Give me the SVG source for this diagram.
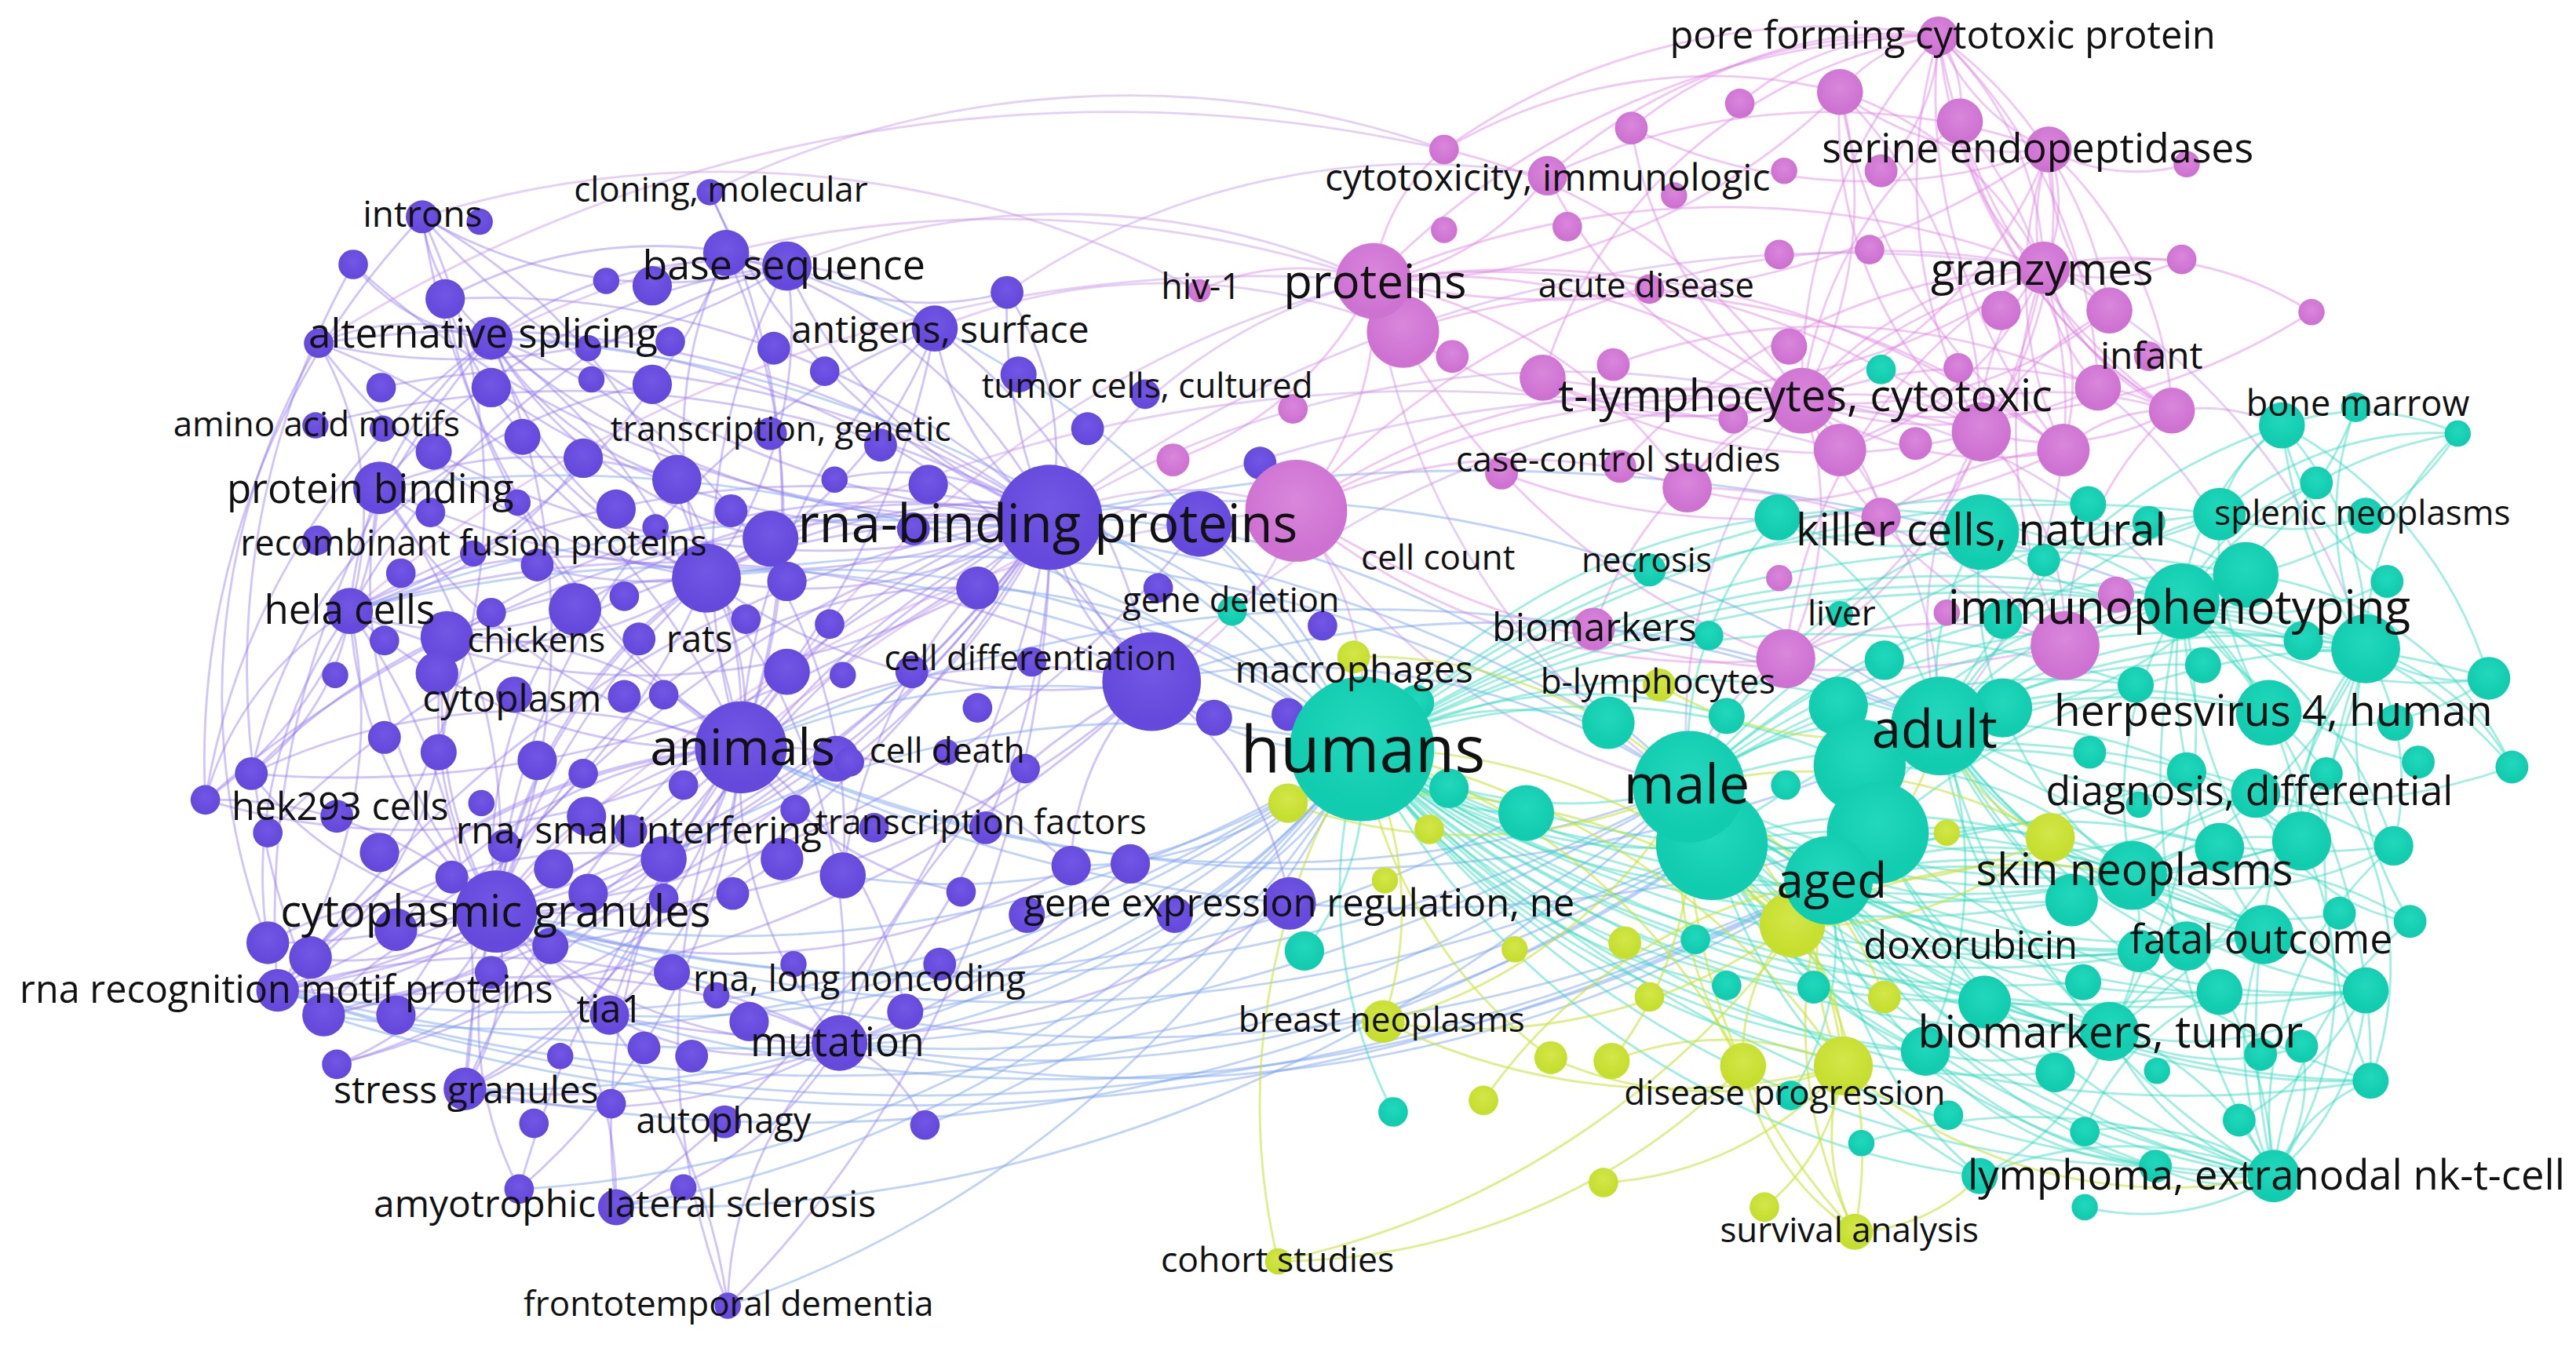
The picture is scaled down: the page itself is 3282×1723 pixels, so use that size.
<svg xmlns="http://www.w3.org/2000/svg" width="3282" height="1723" viewBox="0 0 3282 1723">
<defs>
<radialGradient id="gp" cy="0.4"><stop offset="0" stop-color="#7256e4"/><stop offset="1" stop-color="#6549dc"/></radialGradient>
<radialGradient id="gk" cy="0.4"><stop offset="0" stop-color="#d987dc"/><stop offset="1" stop-color="#ce72d2"/></radialGradient>
<radialGradient id="gt" cy="0.4"><stop offset="0" stop-color="#22d8bc"/><stop offset="1" stop-color="#12ccaf"/></radialGradient>
<radialGradient id="gl" cy="0.4"><stop offset="0" stop-color="#d3e74a"/><stop offset="1" stop-color="#c6de2e"/></radialGradient>
</defs>
<style>
.e path{fill:none;stroke-width:1.35;stroke-linecap:round}
.ep{stroke:#8f72ee;stroke-opacity:.42}
.eb{stroke:#7aa4f0;stroke-opacity:.48}
.ev{stroke:#c48de6;stroke-opacity:.42}
.ek{stroke:#df86e2;stroke-opacity:.46}
.et{stroke:#2fd9bd;stroke-opacity:.46}
.el{stroke:#c8e23e;stroke-opacity:.6}
.p{fill:url(#gp)}.k{fill:url(#gk)}.t{fill:url(#gt)}.l{fill:url(#gl)}
text{font-family:"Open Sans","Noto Sans","DejaVu Sans",sans-serif;fill:#111;text-anchor:middle;dominant-baseline:central;transform:translateY(-1.3px)}
</style>
<rect width="3282" height="1723" fill="#fff"/>
<g transform="scale(2.0931)">
<g id="connectors" class="e">
<g class="ep">
<path d="M639 315A290 290 0 0 1 479 162"/><path d="M639 315A330 330 0 0 0 442 154"/><path d="M639 315A460 460 0 0 1 299 206"/><path d="M639 315A500 500 0 0 0 271 182"/><path d="M639 315A530 530 0 0 1 231 297"/><path d="M639 315A560 560 0 0 0 213 372"/><path d="M639 315A540 540 0 0 1 302 555"/><path d="M639 315A300 300 0 0 0 451 455"/><path d="M639 315A720 720 0 0 1 169 603"/><path d="M639 315A650 650 0 0 0 283 663"/><path d="M639 315A450 450 0 0 1 511 635"/><path d="M639 315A520 520 0 0 0 371 618"/><path d="M639 315A640 640 0 0 1 375 735"/><path d="M639 315A550 550 0 0 1 257 132"/><path d="M639 315A600 600 0 0 0 194 209"/><path d="M639 315A660 660 0 0 1 153 471"/><path d="M639 315A700 700 0 0 0 125 487"/><path d="M639 315A180 180 0 0 1 569 200"/><path d="M639 315A180 180 0 0 0 613 178"/><path d="M639 315A370 370 0 0 1 432 117"/><path d="M639 315A150 150 0 0 0 701 415"/><path d="M639 315A280 280 0 0 1 430 352"/><path d="M639 315A490 490 0 0 0 272 388"/><path d="M639 315A610 610 0 0 1 241 566"/><path d="M639 315A680 680 0 0 0 189 583"/><path d="M639 315A410 410 0 0 1 404 523"/><path d="M639 315A330 330 0 0 0 513 533"/><path d="M639 315A670 670 0 0 1 443 795"/><path d="M639 315A680 680 0 0 0 316 724"/><path d="M639 315A710 710 0 0 1 205 648"/><path d="M639 315A380 380 0 0 0 350 371"/><path d="M639 315A700 700 0 0 1 197 618"/><path d="M639 315A650 650 0 0 0 241 618"/><path d="M639 315A670 670 0 0 0 163 507"/><path d="M639 315A450 450 0 0 1 299 236"/><path d="M639 315A540 540 0 0 0 231 236"/><path d="M639 315A590 590 0 0 1 215 161"/><path d="M639 315A590 590 0 0 0 192 259"/><path d="M639 315A490 490 0 0 1 264 275"/><path d="M639 315A170 170 0 0 0 508 292"/>
<path d="M451 455A230 230 0 0 0 302 555"/><path d="M451 455A330 330 0 0 1 213 372"/><path d="M451 455A410 410 0 0 0 169 603"/><path d="M451 455A350 350 0 0 1 283 663"/><path d="M451 455A250 250 0 0 0 511 635"/><path d="M451 455A240 240 0 0 1 371 618"/><path d="M451 455A430 430 0 0 1 125 487"/><path d="M451 455A390 390 0 0 0 153 471"/><path d="M451 455A350 350 0 0 1 231 297"/><path d="M451 455A380 380 0 0 0 299 206"/><path d="M451 455A380 380 0 0 1 479 162"/><path d="M451 455A390 390 0 0 0 442 154"/><path d="M451 455A490 490 0 0 1 257 132"/><path d="M451 455A460 460 0 0 0 194 209"/><path d="M451 455A420 420 0 0 1 271 182"/><path d="M451 455A380 380 0 0 0 375 735"/><path d="M451 455A390 390 0 0 1 316 724"/><path d="M451 455A440 440 0 0 0 443 795"/><path d="M451 455A410 410 0 0 1 205 648"/><path d="M451 455A380 380 0 0 0 189 583"/><path d="M451 455A400 400 0 0 1 163 574"/><path d="M451 455A310 310 0 0 0 241 566"/><path d="M451 455A330 330 0 0 1 701 415"/><path d="M451 455A140 140 0 0 0 430 352"/><path d="M451 455A370 370 0 0 1 569 200"/><path d="M451 455A440 440 0 0 0 432 117"/><path d="M451 455A390 390 0 0 1 197 618"/><path d="M451 455A250 250 0 0 0 272 388"/><path d="M451 455A280 280 0 0 1 652 527"/><path d="M451 455A210 210 0 0 0 585 543"/><path d="M451 455A250 250 0 0 1 551 616"/>
<path d="M302 555A180 180 0 0 1 169 603"/><path d="M302 555A180 180 0 0 0 163 574"/><path d="M302 555A150 150 0 0 1 189 583"/><path d="M302 555A160 160 0 0 0 197 618"/><path d="M302 555A140 140 0 0 1 283 663"/><path d="M302 555A120 120 0 0 0 371 618"/><path d="M302 555A260 260 0 0 1 213 372"/><path d="M302 555A250 250 0 0 0 125 487"/><path d="M302 555A220 220 0 0 1 153 471"/><path d="M302 555A350 350 0 0 0 231 297"/><path d="M302 555A170 170 0 0 1 205 648"/><path d="M302 555A220 220 0 0 0 316 724"/><path d="M302 555A250 250 0 0 1 375 735"/><path d="M302 555A290 290 0 0 0 511 635"/><path d="M302 555A310 310 0 0 1 430 352"/><path d="M302 555A450 450 0 0 0 299 206"/><path d="M302 555A220 220 0 0 1 272 388"/><path d="M302 555A140 140 0 0 0 404 523"/><path d="M302 555A360 360 0 0 1 443 795"/>
<path d="M430 352A250 250 0 0 1 299 206"/><path d="M430 352A250 250 0 0 0 479 162"/><path d="M430 352A270 270 0 0 1 231 297"/><path d="M430 352A280 280 0 0 0 213 372"/><path d="M430 352A300 300 0 0 1 271 182"/><path d="M430 352A360 360 0 0 0 257 132"/><path d="M430 352A360 360 0 0 1 194 209"/><path d="M430 352A390 390 0 0 0 153 471"/><path d="M430 352A380 380 0 0 1 511 635"/><path d="M430 352A450 450 0 0 0 283 663"/><path d="M430 352A470 470 0 0 1 169 603"/><path d="M430 352A270 270 0 0 0 569 200"/><path d="M430 352A260 260 0 0 1 442 154"/><path d="M430 352A210 210 0 0 1 272 388"/>
<path d="M479 162A240 240 0 0 0 299 206"/><path d="M479 162A290 290 0 0 1 257 132"/><path d="M479 162A270 270 0 0 0 271 182"/><path d="M479 162A380 380 0 0 1 194 209"/><path d="M479 162A370 370 0 0 0 231 297"/><path d="M479 162A130 130 0 0 1 569 200"/><path d="M479 162A180 180 0 0 0 613 178"/><path d="M479 162A440 440 0 0 0 213 372"/>
<path d="M299 206A110 110 0 0 1 257 132"/><path d="M299 206A140 140 0 0 0 194 209"/><path d="M299 206A120 120 0 0 1 215 161"/><path d="M299 206A240 240 0 0 0 213 372"/><path d="M299 206A430 430 0 0 0 125 487"/><path d="M299 206A540 540 0 0 0 169 603"/>
<path d="M213 372A150 150 0 0 1 153 471"/><path d="M213 372A190 190 0 0 0 125 487"/><path d="M213 372A300 300 0 0 1 169 603"/><path d="M213 372A270 270 0 0 0 163 574"/><path d="M213 372A210 210 0 0 0 194 209"/><path d="M213 372A390 390 0 0 1 283 663"/>
<path d="M194 209A420 420 0 0 0 163 574"/><path d="M215 161A500 500 0 0 0 197 618"/><path d="M257 132A480 480 0 0 0 125 487"/>
<path d="M511 635A220 220 0 0 1 375 735"/><path d="M511 635A230 230 0 0 0 443 795"/><path d="M511 635A300 300 0 0 1 283 663"/><path d="M511 635A450 450 0 0 0 169 603"/><path d="M511 635A410 410 0 0 0 197 618"/><path d="M511 635A180 180 0 0 1 371 618"/><path d="M511 635A90 90 0 0 1 563 685"/>
<path d="M701 415A330 330 0 0 0 569 200"/><path d="M701 415A330 330 0 0 1 613 178"/><path d="M701 415A380 380 0 0 0 511 635"/><path d="M701 415A550 550 0 0 1 302 555"/><path d="M701 415A640 640 0 0 0 213 372"/><path d="M701 415A360 360 0 0 1 430 352"/><path d="M701 415A160 160 0 0 0 652 527"/><path d="M701 415A210 210 0 0 1 785 550"/>
<path d="M412 292A200 200 0 0 1 299 206"/><path d="M412 292A260 260 0 0 0 231 297"/><path d="M412 292A300 300 0 0 1 451 455"/><path d="M350 371A250 250 0 0 0 302 555"/><path d="M350 371A200 200 0 0 1 213 372"/><path d="M272 388A260 260 0 0 0 302 555"/><path d="M272 388A230 230 0 0 1 169 603"/><path d="M469 328A260 260 0 0 1 299 206"/><path d="M469 328A300 300 0 0 0 302 555"/><path d="M404 523A200 200 0 0 1 283 663"/><path d="M404 523A260 260 0 0 0 169 603"/><path d="M476 523A280 280 0 0 1 241 566"/><path d="M513 533A320 320 0 0 0 299 206"/><path d="M355 279A240 240 0 0 1 213 372"/><path d="M397 234A300 300 0 0 0 153 471"/><path d="M442 154A380 380 0 0 1 213 372"/><path d="M231 297A300 300 0 0 0 302 555"/><path d="M231 297A250 250 0 0 1 125 487"/><path d="M257 132A400 400 0 0 1 231 519"/><path d="M569 200A420 420 0 0 0 302 555"/><path d="M569 200A500 500 0 0 1 169 603"/><path d="M701 415A500 500 0 0 0 299 206"/><path d="M701 415A680 680 0 0 1 169 603"/><path d="M595 358A300 300 0 0 0 302 555"/><path d="M595 358A420 420 0 0 1 213 372"/><path d="M652 527A420 420 0 0 1 302 555"/><path d="M688 526A500 500 0 0 1 283 663"/><path d="M785 550A560 560 0 0 1 371 618"/><path d="M730 319A420 420 0 0 0 430 352"/><path d="M730 319A600 600 0 0 1 302 555"/>
</g>
<g class="eb">
<path d="M829 456A300 300 0 0 0 639 315"/><path d="M829 456A170 170 0 0 1 701 415"/><path d="M829 456A490 490 0 0 0 451 455"/><path d="M829 456A470 470 0 0 1 511 635"/><path d="M829 456A700 700 0 0 1 302 555"/><path d="M829 456A560 560 0 0 0 404 523"/><path d="M829 456A880 880 0 0 1 169 603"/><path d="M829 456A850 850 0 0 1 197 618"/><path d="M829 456A630 630 0 0 1 371 618"/><path d="M829 456A700 700 0 0 1 375 735"/><path d="M829 456A760 760 0 0 1 283 663"/><path d="M829 456A540 540 0 0 0 430 352"/><path d="M829 456A810 810 0 0 0 213 372"/><path d="M829 456A800 800 0 0 0 231 297"/><path d="M829 456A760 760 0 0 0 299 206"/><path d="M829 456A600 600 0 0 0 479 162"/><path d="M829 456A250 250 0 0 1 652 527"/><path d="M829 456A200 200 0 0 1 715 557"/><path d="M829 456A420 420 0 0 1 551 616"/><path d="M829 456A670 670 0 0 1 443 795"/><path d="M829 456A420 420 0 0 1 513 533"/>
<path d="M1028 479A550 550 0 0 0 639 315"/><path d="M1028 479A430 430 0 0 0 701 415"/><path d="M1028 479A700 700 0 0 1 511 635"/><path d="M1028 479A950 950 0 0 1 302 555"/><path d="M1028 479A750 750 0 0 1 451 455"/><path d="M1028 479A1130 1130 0 0 1 169 603"/><path d="M1113 536A790 790 0 0 1 511 635"/><path d="M1113 536A970 970 0 0 1 371 618"/><path d="M1113 536A1230 1230 0 0 1 169 603"/><path d="M1113 536A1200 1200 0 0 1 197 618"/><path d="M1181 442A720 720 0 0 0 639 315"/><path d="M1181 442A620 620 0 0 0 701 415"/><path d="M1042 514A960 960 0 0 1 302 555"/><path d="M1042 514A1000 1000 0 0 1 283 663"/><path d="M1132 466A880 880 0 0 1 451 455"/>
<path d="M929 495A800 800 0 0 1 302 555"/><path d="M979 440A900 900 0 0 0 213 372"/><path d="M1028 479A900 900 0 0 1 375 735"/><path d="M1042 514A700 700 0 0 1 511 635"/><path d="M1143 507A900 900 0 0 1 451 455"/><path d="M1181 442A900 900 0 0 0 451 455"/><path d="M829 456A500 500 0 0 1 563 685"/><path d="M829 456A700 700 0 0 1 316 724"/><path d="M1113 536A1000 1000 0 0 1 302 555"/><path d="M829 456A360 360 0 0 0 595 358"/><path d="M829 456A300 300 0 0 0 730 319"/><path d="M1028 479A800 800 0 0 0 430 352"/><path d="M1328 366A1200 1200 0 0 0 639 315"/><path d="M1042 514A1100 1100 0 0 1 169 603"/>
</g>
<g class="ev">
<path d="M639 315A320 320 0 0 1 836 171"/><path d="M639 315A600 600 0 0 1 1097 244"/><path d="M639 315A200 200 0 0 1 789 311"/><path d="M451 455A620 620 0 0 1 836 171"/><path d="M479 162A460 460 0 0 1 836 171"/><path d="M432 117A580 580 0 0 1 879 91"/><path d="M299 206A700 700 0 0 1 836 171"/><path d="M257 132A620 620 0 0 1 730 177"/><path d="M569 200A370 370 0 0 1 854 202"/><path d="M701 415A180 180 0 0 0 789 311"/><path d="M701 415A560 560 0 0 1 1097 244"/><path d="M451 455A880 880 0 0 1 1097 244"/><path d="M213 372A850 850 0 0 1 836 171"/><path d="M302 555A710 710 0 0 1 789 311"/><path d="M613 178A440 440 0 0 1 942 107"/><path d="M194 209A900 900 0 0 1 879 91"/><path d="M639 315A810 810 0 0 1 1244 163"/><path d="M430 352A900 900 0 0 1 1120 274"/>
<path d="M1097 244A320 320 0 0 0 1028 479"/><path d="M1097 244A280 280 0 0 1 1181 442"/><path d="M1097 244A340 340 0 0 1 1328 366"/><path d="M1206 263A230 230 0 0 0 1181 442"/><path d="M789 311A200 200 0 0 1 829 456"/><path d="M789 311A380 380 0 0 0 1028 479"/><path d="M1087 401A120 120 0 0 0 1028 479"/><path d="M1257 393A170 170 0 0 1 1328 366"/><path d="M1322 250A120 120 0 0 1 1389 259"/><path d="M1256 274A300 300 0 0 1 1181 442"/><path d="M1277 236A320 320 0 0 1 1367 350"/><path d="M836 171A440 440 0 0 0 1028 479"/><path d="M1244 163A400 400 0 0 1 1440 395"/>
</g>
<g class="ek">
<path d="M1097 244A350 350 0 0 0 836 171"/><path d="M1097 244A410 410 0 0 0 789 311"/><path d="M1097 244A310 310 0 0 1 1180 22"/><path d="M1097 244A250 250 0 0 0 1120 56"/><path d="M1097 244A250 250 0 0 1 1193 74"/><path d="M1097 244A280 280 0 0 0 1247 91"/><path d="M1097 244A220 220 0 0 1 1244 163"/><path d="M1097 244A250 250 0 0 0 1284 189"/><path d="M1097 244A290 290 0 0 1 1322 250"/><path d="M1097 244A230 230 0 0 0 1277 236"/><path d="M1097 244A140 140 0 0 1 1206 263"/><path d="M1097 244A210 210 0 0 0 1256 274"/><path d="M1097 244A200 200 0 0 1 1087 401"/><path d="M1097 244A280 280 0 0 0 1257 393"/><path d="M1097 244A270 270 0 0 1 942 107"/><path d="M1097 244A350 350 0 0 0 879 91"/><path d="M1097 244A250 250 0 0 1 993 78"/><path d="M1097 244A110 110 0 0 0 1027 297"/><path d="M1097 244A210 210 0 0 1 939 230"/><path d="M1097 244A410 410 0 0 0 1407 190"/><path d="M1097 244A110 110 0 0 1 1145 315"/><path d="M1097 244A240 240 0 0 0 970 383"/><path d="M1097 244A320 320 0 0 1 1328 158"/>
<path d="M836 171A120 120 0 0 1 879 91"/><path d="M836 171A160 160 0 0 0 942 107"/><path d="M836 171A490 490 0 0 1 1180 22"/><path d="M836 171A400 400 0 0 0 1120 56"/><path d="M836 171A530 530 0 0 1 1244 163"/><path d="M836 171A540 540 0 0 0 1247 91"/><path d="M836 171A500 500 0 0 1 1206 263"/><path d="M836 171A190 190 0 0 1 789 311"/><path d="M836 171A440 440 0 0 0 1087 401"/><path d="M836 171A300 300 0 0 1 1027 297"/><path d="M836 171A560 560 0 0 1 1256 274"/><path d="M836 171A140 140 0 0 0 730 177"/><path d="M836 171A210 210 0 0 1 714 280"/>
<path d="M1180 22A90 90 0 0 0 1120 56"/><path d="M1180 22A70 70 0 0 1 1193 74"/><path d="M1180 22A130 130 0 0 0 1247 91"/><path d="M1180 22A200 200 0 0 1 1244 163"/><path d="M1180 22A310 310 0 0 0 1206 263"/><path d="M1180 22A260 260 0 0 1 1284 189"/><path d="M1180 22A340 340 0 0 0 1256 274"/><path d="M1180 22A310 310 0 0 1 1277 236"/><path d="M1180 22A350 350 0 0 0 1322 250"/><path d="M1180 22A250 250 0 0 0 993 78"/><path d="M1180 22A330 330 0 0 0 942 107"/><path d="M1180 22A170 170 0 0 0 1059 63"/><path d="M1180 22A120 120 0 0 1 1145 104"/><path d="M1180 22A400 400 0 0 0 879 91"/>
<path d="M1244 163A90 90 0 0 0 1247 91"/><path d="M1244 163A130 130 0 0 1 1193 74"/><path d="M1244 163A210 210 0 0 0 1120 56"/><path d="M1244 163A60 60 0 0 1 1284 189"/><path d="M1244 163A140 140 0 0 0 1206 263"/><path d="M1244 163A150 150 0 0 1 1256 274"/><path d="M1244 163A150 150 0 0 0 1322 250"/><path d="M1244 163A370 370 0 0 1 1087 401"/><path d="M1244 163A300 300 0 0 0 1257 393"/><path d="M1244 163A210 210 0 0 1 1407 190"/><path d="M1244 163A110 110 0 0 0 1328 158"/>
<path d="M1247 91A170 170 0 0 1 1120 56"/><path d="M1247 91A230 230 0 0 1 1206 263"/><path d="M1247 91A140 140 0 0 0 1284 189"/><path d="M1247 91A230 230 0 0 1 1322 250"/><path d="M1247 91A110 110 0 0 0 1331 100"/><path d="M1247 91A330 330 0 0 1 993 78"/><path d="M1247 91A240 240 0 0 0 1256 274"/>
<path d="M1120 56A290 290 0 0 1 1206 263"/><path d="M1120 56A330 330 0 0 0 1256 274"/><path d="M1193 74A270 270 0 0 1 1256 274"/><path d="M1193 74A280 280 0 0 0 1322 250"/><path d="M879 91A320 320 0 0 1 1120 56"/><path d="M942 107A400 400 0 0 1 1247 91"/><path d="M789 311A400 400 0 0 0 1087 401"/><path d="M789 311A310 310 0 0 1 1027 297"/><path d="M789 311A550 550 0 0 1 1206 263"/><path d="M789 311A620 620 0 0 0 1257 393"/><path d="M1087 401A220 220 0 0 1 1257 393"/><path d="M1087 401A240 240 0 0 0 1206 263"/><path d="M1257 393A200 200 0 0 1 1322 250"/><path d="M1257 393A180 180 0 0 0 1206 263"/><path d="M1256 274A90 90 0 0 1 1322 250"/><path d="M1206 263A150 150 0 0 0 1322 250"/><path d="M1027 297A320 320 0 0 1 1257 393"/><path d="M939 230A350 350 0 0 0 1206 263"/><path d="M939 230A400 400 0 0 0 1244 163"/><path d="M982 222A380 380 0 0 1 1277 236"/><path d="M914 288A440 440 0 0 0 1256 274"/><path d="M986 284A370 370 0 0 1 1244 163"/>
<path d="M1120 274A250 250 0 0 1 1322 250"/><path d="M1120 274A200 200 0 0 0 1244 163"/><path d="M1206 263A250 250 0 0 1 1120 56"/><path d="M939 230A300 300 0 0 1 1180 22"/><path d="M854 202A420 420 0 0 1 1256 274"/><path d="M854 202A300 300 0 0 0 1097 244"/><path d="M789 311A480 480 0 0 1 1244 163"/><path d="M1027 297A200 200 0 0 0 1206 263"/><path d="M1277 236A150 150 0 0 1 1247 91"/><path d="M1284 189A200 200 0 0 0 1206 263"/><path d="M1322 250A300 300 0 0 1 1180 22"/><path d="M1087 401A300 300 0 0 1 1244 163"/><path d="M1145 315A200 200 0 0 1 1256 274"/>
</g>
<g class="et">
<path d="M829 456A260 260 0 0 0 1028 479"/><path d="M829 456A290 290 0 0 0 1042 514"/><path d="M829 456A460 460 0 0 1 1181 442"/><path d="M829 456A380 380 0 0 0 1113 536"/><path d="M829 456A410 410 0 0 0 1143 507"/><path d="M829 456A390 390 0 0 1 1132 466"/><path d="M829 456A660 660 0 0 1 1328 366"/><path d="M829 456A800 800 0 0 1 1440 395"/><path d="M829 456A620 620 0 0 0 1298 533"/><path d="M829 456A630 630 0 0 0 1284 628"/><path d="M829 456A800 800 0 0 0 1384 716"/><path d="M829 456A510 510 0 0 0 1172 640"/><path d="M829 456A530 530 0 0 0 1208 610"/><path d="M829 456A570 570 0 0 0 1261 548"/><path d="M829 456A730 730 0 0 0 1378 569"/><path d="M829 456A700 700 0 0 1 1351 313"/><path d="M829 456A520 520 0 0 1 1206 324"/><path d="M829 456A380 380 0 0 1 1082 315"/><path d="M829 456A170 170 0 0 1 794 579"/><path d="M829 456A140 140 0 0 0 929 495"/><path d="M829 456A200 200 0 0 1 979 440"/><path d="M829 456A290 290 0 0 1 1051 436"/><path d="M829 456A710 710 0 0 1 1367 350"/><path d="M829 456A820 820 0 0 0 1440 603"/><path d="M829 456A750 750 0 0 0 1401 512"/><path d="M829 456A400 400 0 0 0 1104 601"/><path d="M829 456A290 290 0 0 0 848 677"/><path d="M829 456A350 350 0 0 0 1051 600"/>
<path d="M1028 479A200 200 0 0 1 1181 442"/><path d="M1028 479A130 130 0 0 0 1113 536"/><path d="M1028 479A420 420 0 0 1 1328 366"/><path d="M1028 479A550 550 0 0 1 1440 395"/><path d="M1028 479A360 360 0 0 0 1298 533"/><path d="M1028 479A380 380 0 0 0 1284 628"/><path d="M1028 479A560 560 0 0 0 1384 716"/><path d="M1028 479A470 470 0 0 0 1378 569"/><path d="M1028 479A470 470 0 0 1 1351 313"/><path d="M1028 479A470 470 0 0 1 1367 350"/><path d="M1028 479A310 310 0 0 1 1206 324"/><path d="M1028 479A490 490 0 0 0 1401 512"/><path d="M1028 479A560 560 0 0 0 1440 603"/><path d="M1028 479A280 280 0 0 0 1172 640"/><path d="M1028 479A290 290 0 0 0 1208 610"/><path d="M1028 479A320 320 0 0 0 1261 548"/><path d="M1028 479A590 590 0 0 0 1443 658"/><path d="M1028 479A560 560 0 0 1 1457 515"/>
<path d="M1181 442A210 210 0 0 1 1328 366"/><path d="M1181 442A340 340 0 0 1 1440 395"/><path d="M1181 442A270 270 0 0 0 1367 350"/><path d="M1181 442A280 280 0 0 1 1351 313"/><path d="M1181 442A190 190 0 0 0 1298 533"/><path d="M1181 442A280 280 0 0 0 1284 628"/><path d="M1181 442A440 440 0 0 0 1384 716"/><path d="M1181 442A300 300 0 0 0 1378 569"/><path d="M1181 442A300 300 0 0 1 1401 512"/><path d="M1181 442A370 370 0 0 0 1457 515"/><path d="M1181 442A440 440 0 0 1 1515 413"/><path d="M1181 442A450 450 0 0 0 1529 467"/><path d="M1181 442A360 360 0 0 1 1389 259"/><path d="M1181 442A160 160 0 0 1 1206 324"/><path d="M1181 442A150 150 0 0 0 1113 536"/><path d="M1181 442A400 400 0 0 0 1440 603"/><path d="M1181 442A440 440 0 0 0 1443 658"/><path d="M1181 442A260 260 0 0 1 1172 640"/>
<path d="M1113 536A240 240 0 0 1 1298 533"/><path d="M1113 536A250 250 0 0 0 1284 628"/><path d="M1113 536A420 420 0 0 0 1384 716"/><path d="M1113 536A350 350 0 0 1 1378 569"/><path d="M1113 536A360 360 0 0 1 1328 366"/><path d="M1113 536A460 460 0 0 1 1440 395"/><path d="M1113 536A160 160 0 0 0 1172 640"/><path d="M1113 536A160 160 0 0 1 1208 610"/><path d="M1113 536A240 240 0 0 0 1251 653"/><path d="M1113 536A340 340 0 0 0 1312 710"/><path d="M1113 536A260 260 0 0 0 1205 716"/><path d="M1113 536A170 170 0 0 1 1090 667"/><path d="M1113 536A460 460 0 0 0 1443 658"/><path d="M1113 536A430 430 0 0 1 1440 603"/>
<path d="M1328 366A150 150 0 0 0 1440 395"/><path d="M1328 366A160 160 0 0 1 1389 259"/><path d="M1328 366A260 260 0 0 1 1496 264"/><path d="M1328 366A210 210 0 0 0 1434 248"/><path d="M1328 366A250 250 0 0 0 1515 413"/><path d="M1328 366A290 290 0 0 1 1529 467"/><path d="M1328 366A160 160 0 0 0 1453 354"/><path d="M1328 366A140 140 0 0 1 1410 294"/><path d="M1328 366A220 220 0 0 0 1298 533"/><path d="M1328 366A210 210 0 0 1 1401 512"/><path d="M1328 366A460 460 0 0 0 1384 716"/><path d="M1328 366A350 350 0 0 1 1284 628"/><path d="M1328 366A270 270 0 0 0 1378 569"/><path d="M1328 366A260 260 0 0 1 1457 515"/><path d="M1328 366A230 230 0 0 0 1472 464"/><path d="M1328 366A170 170 0 0 1 1206 324"/><path d="M1328 366A340 340 0 0 0 1440 603"/><path d="M1328 366A410 410 0 0 1 1443 658"/>
<path d="M1440 395A150 150 0 0 1 1529 467"/><path d="M1440 395A100 100 0 0 0 1515 413"/><path d="M1440 395A180 180 0 0 1 1496 264"/><path d="M1440 395A420 420 0 0 0 1384 716"/><path d="M1440 395A340 340 0 0 0 1443 658"/><path d="M1440 395A260 260 0 0 1 1298 533"/><path d="M1440 395A360 360 0 0 1 1284 628"/><path d="M1440 395A160 160 0 0 0 1401 512"/><path d="M1440 395A160 160 0 0 1 1457 515"/><path d="M1440 395A190 190 0 0 0 1389 259"/><path d="M1440 395A190 190 0 0 1 1434 248"/><path d="M1440 395A220 220 0 0 0 1467 561"/>
<path d="M1389 259A140 140 0 0 1 1496 264"/><path d="M1389 259A150 150 0 0 0 1453 354"/><path d="M1389 259A260 260 0 0 1 1515 413"/><path d="M1389 259A90 90 0 0 0 1351 313"/>
<path d="M1384 716A170 170 0 0 1 1284 628"/><path d="M1384 716A230 230 0 0 0 1205 716"/><path d="M1384 716A90 90 0 0 1 1312 710"/><path d="M1384 716A150 150 0 0 0 1269 689"/><path d="M1384 716A110 110 0 0 1 1443 658"/><path d="M1384 716A160 160 0 0 0 1440 603"/><path d="M1384 716A190 190 0 0 1 1378 569"/><path d="M1384 716A260 260 0 0 0 1298 533"/><path d="M1384 716A150 150 0 0 1 1269 735"/><path d="M1384 716A100 100 0 0 0 1401 637"/><path d="M1384 716A290 290 0 0 1 1172 640"/><path d="M1384 716A330 330 0 0 0 1133 696"/><path d="M1384 716A230 230 0 0 1 1467 561"/>
<path d="M1284 628A150 150 0 0 1 1205 716"/><path d="M1284 628A200 200 0 0 0 1440 603"/><path d="M1284 628A140 140 0 0 1 1378 569"/><path d="M1284 628A120 120 0 0 0 1298 533"/><path d="M1284 628A150 150 0 0 1 1172 640"/><path d="M1284 628A150 150 0 0 0 1401 637"/>
<path d="M1298 533A210 210 0 0 0 1457 515"/><path d="M1298 533A140 140 0 0 1 1401 512"/><path d="M1298 533A110 110 0 0 0 1378 569"/><path d="M1298 533A220 220 0 0 1 1467 561"/><path d="M1298 533A170 170 0 0 0 1424 556"/><path d="M1298 533A120 120 0 0 1 1373 483"/>
<path d="M1206 324A190 190 0 0 0 1351 313"/><path d="M1206 324A160 160 0 0 1 1082 315"/><path d="M1206 324A210 210 0 0 1 1367 350"/><path d="M1082 315A220 220 0 0 0 1028 479"/><path d="M1082 315A210 210 0 0 1 1181 442"/><path d="M1351 313A200 200 0 0 1 1496 264"/><path d="M1351 313A120 120 0 0 0 1440 314"/>
<path d="M1132 466A350 350 0 0 1 1401 512"/><path d="M1143 507A400 400 0 0 0 1440 603"/><path d="M1143 507A310 310 0 0 1 1378 569"/><path d="M1132 466A340 340 0 0 1 1367 350"/><path d="M1143 507A240 240 0 0 0 1284 628"/><path d="M1132 466A230 230 0 0 1 1298 533"/><path d="M1143 507A410 410 0 0 0 1384 716"/><path d="M1042 514A510 510 0 0 0 1384 716"/><path d="M1042 514A350 350 0 0 0 1284 628"/><path d="M1042 514A530 530 0 0 1 1440 603"/><path d="M1042 514A330 330 0 0 1 1298 533"/><path d="M1042 514A230 230 0 0 0 1172 640"/><path d="M1042 514A340 340 0 0 0 1205 716"/><path d="M1042 514A430 430 0 0 0 1312 710"/>
<path d="M829 456A560 560 0 0 1 1271 307"/><path d="M829 456A600 600 0 0 0 1331 576"/><path d="M829 456A650 650 0 0 0 1351 604"/><path d="M829 456A600 600 0 0 0 1268 598"/><path d="M829 456A500 500 0 0 0 1205 716"/><path d="M829 456A600 600 0 0 0 1312 710"/><path d="M829 456A700 700 0 0 0 1443 658"/><path d="M829 456A700 700 0 0 1 1402 390"/><path d="M829 456A600 600 0 0 1 1300 417"/><path d="M829 456A620 620 0 0 0 1331 470"/><path d="M829 456A450 450 0 0 0 1172 640"/><path d="M829 456A470 470 0 0 0 1251 653"/><path d="M1028 479A400 400 0 0 0 1331 576"/><path d="M1028 479A420 420 0 0 0 1351 604"/><path d="M1028 479A400 400 0 0 1 1300 417"/><path d="M1028 479A450 450 0 0 1 1402 390"/><path d="M1028 479A400 400 0 0 0 1302 579"/><path d="M1181 442A300 300 0 0 1 1341 405"/><path d="M1181 442A320 320 0 0 0 1331 576"/><path d="M1181 442A280 280 0 0 0 1261 548"/><path d="M1113 536A300 300 0 0 1 1351 516"/><path d="M1113 536A300 300 0 0 0 1331 576"/><path d="M1132 466A300 300 0 0 1 1381 434"/><path d="M1143 507A300 300 0 0 0 1373 483"/><path d="M1042 514A400 400 0 0 1 1381 434"/><path d="M1042 514A360 360 0 0 0 1302 579"/><path d="M1367 350A200 200 0 0 0 1496 264"/><path d="M1367 350A200 200 0 0 1 1529 467"/><path d="M1381 434A150 150 0 0 0 1515 413"/><path d="M1381 434A200 200 0 0 1 1443 658"/><path d="M1373 483A120 120 0 0 0 1467 561"/><path d="M1401 512A200 200 0 0 1 1384 716"/><path d="M1457 515A220 220 0 0 0 1384 716"/><path d="M1440 603A200 200 0 0 1 1363 682"/><path d="M1351 604A150 150 0 0 0 1269 689"/><path d="M1208 610A200 200 0 0 1 1384 716"/><path d="M1172 640A200 200 0 0 0 1312 710"/><path d="M1082 315A350 350 0 0 1 1328 366"/><path d="M1206 324A220 220 0 0 0 1298 533"/><path d="M1351 313A200 200 0 0 0 1381 434"/><path d="M1389 259A300 300 0 0 0 1440 395"/>
</g>
<g class="el">
<path d="M1091 563A370 370 0 0 0 829 456"/><path d="M1091 563A140 140 0 0 1 1028 479"/><path d="M1091 563A200 200 0 0 0 1181 442"/><path d="M1091 563A120 120 0 0 1 1122 649"/><path d="M1091 563A120 120 0 0 0 1061 649"/><path d="M1091 563A250 250 0 0 1 1129 750"/><path d="M1091 563A330 330 0 0 1 842 622"/><path d="M1091 563A220 220 0 0 0 1248 510"/><path d="M1122 649A460 460 0 0 0 829 456"/><path d="M1122 649A250 250 0 0 0 1028 479"/><path d="M1122 649A130 130 0 0 0 1129 750"/><path d="M1122 649A130 130 0 0 1 1074 735"/><path d="M1122 649A230 230 0 0 1 944 644"/><path d="M1122 649A180 180 0 0 0 981 646"/><path d="M1122 649A150 150 0 0 1 1113 536"/><path d="M1061 649A390 390 0 0 0 829 456"/><path d="M1061 649A220 220 0 0 1 1028 479"/><path d="M1061 649A160 160 0 0 0 1129 750"/><path d="M1061 649A400 400 0 0 1 778 768"/><path d="M842 622A210 210 0 0 0 829 456"/><path d="M842 622A300 300 0 0 0 1028 479"/><path d="M778 768A410 410 0 0 1 829 456"/><path d="M778 768A530 530 0 0 0 1113 536"/><path d="M1129 750A370 370 0 0 1 1028 479"/><path d="M1129 750A280 280 0 0 1 1113 536"/><path d="M1129 750A110 110 0 0 0 1205 716"/><path d="M1248 510A120 120 0 0 1 1181 442"/><path d="M1248 510A290 290 0 0 0 1028 479"/><path d="M944 644A290 290 0 0 1 829 456"/><path d="M981 646A230 230 0 0 0 1028 479"/><path d="M784 489A320 320 0 0 0 1028 479"/><path d="M824 400A280 280 0 0 1 1028 479"/><path d="M1010 417A220 220 0 0 0 1181 442"/><path d="M903 670A320 320 0 0 1 1113 536"/><path d="M976 720A210 210 0 0 0 1122 649"/><path d="M1147 607A230 230 0 0 0 1028 479"/>
<path d="M1091 563A400 400 0 0 0 784 489"/><path d="M1122 649A400 400 0 0 1 842 622"/><path d="M1091 563A300 300 0 0 1 1298 533"/><path d="M1122 649A300 300 0 0 0 1384 716"/><path d="M1248 510A250 250 0 0 1 1113 536"/>
</g>
</g>
<g id="nodes">
<g id="p2"><circle class="p" cx="292" cy="135" r="8"/></g>
<g id="p3"><circle class="p" cx="215" cy="161" r="9"/></g>
<g id="p4"><circle class="p" cx="271" cy="182" r="12"/></g>
<g id="p5"><circle class="p" cx="194" cy="209" r="9"/></g>
<g id="p7"><circle class="p" cx="369" cy="171" r="8"/></g>
<g id="p8"><circle class="p" cx="397" cy="174" r="12"/></g>
<g id="p9"><circle class="p" cx="442" cy="154" r="14"/></g>
<g id="p12"><circle class="p" cx="358" cy="212" r="8"/></g>
<g id="p13"><circle class="p" cx="408" cy="208" r="9"/></g>
<g id="p14"><circle class="p" cx="471" cy="212" r="10"/></g>
<g id="p15"><circle class="p" cx="502" cy="226" r="9"/></g>
<g id="p16"><circle class="p" cx="232" cy="236" r="9"/></g>
<g id="p17"><circle class="p" cx="299" cy="236" r="12"/></g>
<g id="p18"><circle class="p" cx="360" cy="231" r="8"/></g>
<g id="p19"><circle class="p" cx="397" cy="234" r="12"/></g>
<g id="p21"><circle class="p" cx="233" cy="261" r="8"/></g>
<g id="p22"><circle class="p" cx="318" cy="266" r="11"/></g>
<g id="p23"><circle class="p" cx="264" cy="275" r="11"/></g>
<g id="p24"><circle class="p" cx="355" cy="279" r="12"/></g>
<g id="p25"><circle class="p" cx="412" cy="292" r="15"/></g>
<g id="p27"><circle class="p" cx="508" cy="292" r="8"/></g>
<g id="p29"><circle class="p" cx="262" cy="312" r="9"/></g>
<g id="p30"><circle class="p" cx="315" cy="306" r="8"/></g>
<g id="p31"><circle class="p" cx="375" cy="310" r="12"/></g>
<g id="p32"><circle class="p" cx="445" cy="311" r="10"/></g>
<g id="p33"><circle class="p" cx="399" cy="321" r="8"/></g>
<g id="p34"><circle class="p" cx="469" cy="328" r="17"/></g>
<g id="p35"><circle class="p" cx="430" cy="352" r="21"/></g>
<g id="p36"><circle class="p" cx="193" cy="329" r="9"/></g>
<g id="p37"><circle class="p" cx="244" cy="349" r="9"/></g>
<g id="p39"><circle class="p" cx="327" cy="344" r="10"/></g>
<g id="p41"><circle class="p" cx="234" cy="390" r="9"/></g>
<g id="p42"><circle class="p" cx="272" cy="388" r="16"/></g>
<g id="p43"><circle class="p" cx="299" cy="373" r="9"/></g>
<g id="p44"><circle class="p" cx="350" cy="371" r="16"/></g>
<g id="p45"><circle class="p" cx="380" cy="363" r="9"/></g>
<g id="p46"><circle class="p" cx="389" cy="389" r="10"/></g>
<g id="p47"><circle class="p" cx="454" cy="377" r="9"/></g>
<g id="p48"><circle class="p" cx="479" cy="354" r="12"/></g>
<g id="p49"><circle class="p" cx="505" cy="380" r="9"/></g>
<g id="p50"><circle class="p" cx="204" cy="411" r="8"/></g>
<g id="p51"><circle class="p" cx="266" cy="410" r="13"/></g>
<g id="p53"><circle class="p" cx="380" cy="424" r="10"/></g>
<g id="p54"><circle class="p" cx="404" cy="423" r="9"/></g>
<g id="p55"><circle class="p" cx="479" cy="409" r="14"/></g>
<g id="p56"><circle class="p" cx="513" cy="411" r="8"/></g>
<g id="p58"><circle class="p" cx="509" cy="462" r="14"/></g>
<g id="p59"><circle class="p" cx="234" cy="449" r="10"/></g>
<g id="p60"><circle class="p" cx="267" cy="458" r="11"/></g>
<g id="p61"><circle class="p" cx="153" cy="471" r="10"/></g>
<g id="p62"><circle class="p" cx="125" cy="487" r="9"/></g>
<g id="p63"><circle class="p" cx="163" cy="507" r="9"/></g>
<g id="p65"><circle class="p" cx="327" cy="463" r="12"/></g>
<g id="p66"><circle class="p" cx="355" cy="471" r="9"/></g>
<g id="p67"><circle class="p" cx="416" cy="478" r="9"/></g>
<g id="p68"><circle class="p" cx="293" cy="489" r="8"/></g>
<g id="p69"><circle class="p" cx="357" cy="497" r="12"/></g>
<g id="p71"><circle class="p" cx="404" cy="523" r="14"/></g>
<g id="p72"><circle class="p" cx="484" cy="493" r="9"/></g>
<g id="p73"><circle class="p" cx="476" cy="523" r="13"/></g>
<g id="p74"><circle class="p" cx="513" cy="533" r="14"/></g>
<g id="p75"><circle class="p" cx="231" cy="519" r="12"/></g>
<g id="p76"><circle class="p" cx="307" cy="515" r="10"/></g>
<g id="p77"><circle class="p" cx="337" cy="529" r="12"/></g>
<g id="p78"><circle class="p" cx="275" cy="534" r="10"/></g>
<g id="p79"><circle class="p" cx="358" cy="544" r="12"/></g>
<g id="p80"><circle class="p" cx="404" cy="547" r="9"/></g>
<g id="p81"><circle class="p" cx="446" cy="544" r="10"/></g>
<g id="p83"><circle class="p" cx="241" cy="566" r="13"/></g>
<g id="p84"><circle class="p" cx="163" cy="574" r="13"/></g>
<g id="p85"><circle class="p" cx="189" cy="583" r="13"/></g>
<g id="p86"><circle class="p" cx="335" cy="576" r="11"/></g>
<g id="p87"><circle class="p" cx="409" cy="592" r="11"/></g>
<g id="p88"><circle class="p" cx="483" cy="587" r="8"/></g>
<g id="p89"><circle class="p" cx="436" cy="606" r="8"/></g>
<g id="p91"><circle class="p" cx="197" cy="618" r="13"/></g>
<g id="p92"><circle class="p" cx="241" cy="618" r="12"/></g>
<g id="p93"><circle class="p" cx="299" cy="592" r="10"/></g>
<g id="p95"><circle class="p" cx="456" cy="622" r="12"/></g>
<g id="p97"><circle class="p" cx="392" cy="638" r="10"/></g>
<g id="p98"><circle class="p" cx="421" cy="643" r="10"/></g>
<g id="p99"><circle class="p" cx="341" cy="643" r="8"/></g>
<g id="p100"><circle class="p" cx="205" cy="648" r="9"/></g>
<g id="p102"><circle class="p" cx="372" cy="672" r="9"/></g>
<g id="p103"><circle class="p" cx="325" cy="684" r="9"/></g>
<g id="p105"><circle class="p" cx="316" cy="724" r="9"/></g>
<g id="p107"><circle class="p" cx="416" cy="723" r="8"/></g>
<g id="p109"><circle class="p" cx="701" cy="415" r="30"/></g>
<g id="p110"><circle class="p" cx="739" cy="437" r="11"/></g>
<g id="p111"><circle class="p" cx="784" cy="435" r="10"/></g>
<g id="p112"><circle class="p" cx="652" cy="527" r="12"/></g>
<g id="p113"><circle class="p" cx="688" cy="526" r="12"/></g>
<g id="p114"><circle class="p" cx="585" cy="543" r="9"/></g>
<g id="p115"><circle class="p" cx="625" cy="557" r="11"/></g>
<g id="p116"><circle class="p" cx="715" cy="557" r="11"/></g>
<g id="p118"><circle class="p" cx="551" cy="616" r="11"/></g>
<g id="p119"><circle class="p" cx="572" cy="587" r="10"/></g>
<g id="p120"><circle class="p" cx="563" cy="685" r="9"/></g>
<g id="p121"><circle class="p" cx="595" cy="431" r="9"/></g>
<g id="p122"><circle class="p" cx="624" cy="468" r="9"/></g>
<g id="p123"><circle class="p" cx="555" cy="409" r="10"/></g>
<g id="p124"><circle class="p" cx="532" cy="504" r="9"/></g>
<g id="p126"><circle class="p" cx="517" cy="464" r="9"/></g>
<g id="p127"><circle class="p" cx="613" cy="178" r="10"/></g>
<g id="p129"><circle class="p" cx="620" cy="228" r="11"/></g>
<g id="p131"><circle class="p" cx="662" cy="261" r="10"/></g>
<g id="p132"><circle class="p" cx="536" cy="271" r="10"/></g>
<g id="p133"><circle class="p" cx="565" cy="295" r="12"/></g>
<g id="p135"><circle class="p" cx="730" cy="319" r="20"/></g>
<g id="p136"><circle class="p" cx="767" cy="282" r="10"/></g>
<g id="p137"><circle class="p" cx="595" cy="358" r="13"/></g>
<g id="p138"><circle class="p" cx="556" cy="322" r="10"/></g>
<g id="p139"><circle class="p" cx="705" cy="358" r="9"/></g>
<g id="p140"><circle class="p" cx="805" cy="381" r="9"/></g>
<g id="k3"><circle class="k" cx="854" cy="202" r="22"/></g>
<g id="k4"><circle class="k" cx="884" cy="217" r="10"/></g>
<g id="k5"><circle class="k" cx="789" cy="311" r="31"/></g>
<g id="k6"><circle class="k" cx="714" cy="280" r="10"/></g>
<g id="k7"><circle class="k" cx="787" cy="249" r="9"/></g>
<g id="k8"><circle class="k" cx="879" cy="91" r="9"/></g>
<g id="k9"><circle class="k" cx="879" cy="140" r="8"/></g>
<g id="k11"><circle class="k" cx="993" cy="78" r="10"/></g>
<g id="k12"><circle class="k" cx="954" cy="138" r="9"/></g>
<g id="k13"><circle class="k" cx="1019" cy="119" r="8"/></g>
<g id="k15"><circle class="k" cx="939" cy="230" r="14"/></g>
<g id="k16"><circle class="k" cx="982" cy="222" r="10"/></g>
<g id="k17"><circle class="k" cx="914" cy="288" r="10"/></g>
<g id="k19"><circle class="k" cx="1027" cy="297" r="15"/></g>
<g id="k22"><circle class="k" cx="1120" cy="56" r="14"/></g>
<g id="k23"><circle class="k" cx="1059" cy="63" r="9"/></g>
<g id="k24"><circle class="k" cx="1193" cy="74" r="14"/></g>
<g id="k26"><circle class="k" cx="1145" cy="104" r="10"/></g>
<g id="k27"><circle class="k" cx="1086" cy="104" r="8"/></g>
<g id="k28"><circle class="k" cx="1331" cy="100" r="8"/></g>
<g id="k29"><circle class="k" cx="1083" cy="155" r="9"/></g>
<g id="k30"><circle class="k" cx="1138" cy="152" r="9"/></g>
<g id="k32"><circle class="k" cx="1328" cy="158" r="9"/></g>
<g id="k33"><circle class="k" cx="1218" cy="189" r="12"/></g>
<g id="k34"><circle class="k" cx="1284" cy="189" r="14"/></g>
<g id="k35"><circle class="k" cx="1407" cy="190" r="8"/></g>
<g id="k36"><circle class="k" cx="1089" cy="211" r="11"/></g>
<g id="k37"><circle class="k" cx="1192" cy="224" r="9"/></g>
<g id="k39"><circle class="k" cx="1277" cy="236" r="14"/></g>
<g id="k41"><circle class="k" cx="1055" cy="255" r="9"/></g>
<g id="k42"><circle class="k" cx="1322" cy="250" r="14"/></g>
<g id="k43"><circle class="k" cx="1206" cy="263" r="18"/></g>
<g id="k44"><circle class="k" cx="1120" cy="274" r="16"/></g>
<g id="k45"><circle class="k" cx="1166" cy="270" r="10"/></g>
<g id="k46"><circle class="k" cx="1256" cy="274" r="16"/></g>
<g id="k47"><circle class="k" cx="1145" cy="315" r="12"/></g>
<g id="k48"><circle class="k" cx="1083" cy="352" r="8"/></g>
<g id="k49"><circle class="k" cx="1185" cy="373" r="8"/></g>
<g id="k50"><circle class="k" cx="1087" cy="401" r="18"/></g>
<g id="k51"><circle class="k" cx="1257" cy="393" r="21"/></g>
<g id="k52"><circle class="k" cx="1288" cy="362" r="11"/></g>
<g id="t3"><circle class="t" cx="1145" cy="225" r="9"/></g>
<g id="t4"><circle class="t" cx="1389" cy="259" r="14"/></g>
<g id="t6"><circle class="t" cx="1496" cy="264" r="8"/></g>
<g id="t7"><circle class="t" cx="1410" cy="294" r="10"/></g>
<g id="t8"><circle class="t" cx="1351" cy="313" r="16"/></g>
<g id="t10"><circle class="t" cx="1082" cy="315" r="14"/></g>
<g id="t11"><circle class="t" cx="1271" cy="307" r="11"/></g>
<g id="t12"><circle class="t" cx="1308" cy="318" r="10"/></g>
<g id="t14"><circle class="t" cx="1244" cy="341" r="10"/></g>
<g id="t15"><circle class="t" cx="1367" cy="350" r="20"/></g>
<g id="t16"><circle class="t" cx="1453" cy="354" r="10"/></g>
<g id="t18"><circle class="t" cx="1440" cy="395" r="21"/></g>
<g id="t19"><circle class="t" cx="1402" cy="390" r="12"/></g>
<g id="t20"><circle class="t" cx="1341" cy="405" r="11"/></g>
<g id="t21"><circle class="t" cx="1300" cy="417" r="11"/></g>
<g id="t22"><circle class="t" cx="1147" cy="402" r="12"/></g>
<g id="t23"><circle class="t" cx="1515" cy="413" r="13"/></g>
<g id="t24"><circle class="t" cx="1219" cy="377" r="12"/></g>
<g id="t26"><circle class="t" cx="1219" cy="431" r="18"/></g>
<g id="t27"><circle class="t" cx="1119" cy="430" r="18"/></g>
<g id="t28"><circle class="t" cx="1132" cy="466" r="28"/></g>
<g id="t29"><circle class="t" cx="1143" cy="507" r="31"/></g>
<g id="t30"><circle class="t" cx="1087" cy="478" r="9"/></g>
<g id="t32"><circle class="t" cx="1458" cy="440" r="11"/></g>
<g id="t33"><circle class="t" cx="1529" cy="467" r="10"/></g>
<g id="t34"><circle class="t" cx="1472" cy="464" r="10"/></g>
<g id="t35"><circle class="t" cx="1272" cy="458" r="10"/></g>
<g id="t36"><circle class="t" cx="1331" cy="470" r="12"/></g>
<g id="t37"><circle class="t" cx="1416" cy="471" r="10"/></g>
<g id="t39"><circle class="t" cx="1401" cy="512" r="18"/></g>
<g id="t40"><circle class="t" cx="1457" cy="515" r="12"/></g>
<g id="t41"><circle class="t" cx="1351" cy="516" r="15"/></g>
<g id="t43"><circle class="t" cx="1261" cy="548" r="16"/></g>
<g id="t44"><circle class="t" cx="1424" cy="556" r="10"/></g>
<g id="t45"><circle class="t" cx="1467" cy="561" r="10"/></g>
<g id="t47"><circle class="t" cx="1331" cy="576" r="15"/></g>
<g id="t48"><circle class="t" cx="1302" cy="579" r="13"/></g>
<g id="t49"><circle class="t" cx="1440" cy="603" r="14"/></g>
<g id="t50"><circle class="t" cx="1351" cy="604" r="14"/></g>
<g id="t51"><circle class="t" cx="1268" cy="598" r="11"/></g>
<g id="t52"><circle class="t" cx="1208" cy="610" r="16"/></g>
<g id="t54"><circle class="t" cx="1172" cy="640" r="15"/></g>
<g id="t55"><circle class="t" cx="1251" cy="653" r="12"/></g>
<g id="t56"><circle class="t" cx="1313" cy="652" r="8"/></g>
<g id="t57"><circle class="t" cx="1376" cy="642" r="10"/></g>
<g id="t58"><circle class="t" cx="1401" cy="637" r="10"/></g>
<g id="t59"><circle class="t" cx="1443" cy="658" r="11"/></g>
<g id="t60"><circle class="t" cx="1104" cy="601" r="10"/></g>
<g id="t61"><circle class="t" cx="1051" cy="600" r="9"/></g>
<g id="t62"><circle class="t" cx="1090" cy="667" r="9"/></g>
<g id="t63"><circle class="t" cx="1186" cy="679" r="9"/></g>
<g id="t64"><circle class="t" cx="1269" cy="689" r="9"/></g>
<g id="t65"><circle class="t" cx="1363" cy="682" r="10"/></g>
<g id="t66"><circle class="t" cx="1133" cy="696" r="8"/></g>
<g id="t67"><circle class="t" cx="1205" cy="716" r="11"/></g>
<g id="t68"><circle class="t" cx="1312" cy="710" r="10"/></g>
<g id="t70"><circle class="t" cx="1269" cy="735" r="8"/></g>
<g id="t71"><circle class="t" cx="1302" cy="490" r="8"/></g>
<g id="t73"><circle class="t" cx="882" cy="480" r="12"/></g>
<g id="t74"><circle class="t" cx="929" cy="495" r="17"/></g>
<g id="t75"><circle class="t" cx="979" cy="440" r="16"/></g>
<g id="t76"><circle class="t" cx="862" cy="428" r="11"/></g>
<g id="t77"><circle class="t" cx="794" cy="579" r="12"/></g>
<g id="t78"><circle class="t" cx="1032" cy="572" r="9"/></g>
<g id="t80"><circle class="t" cx="848" cy="677" r="9"/></g>
<g id="t81"><circle class="t" cx="1040" cy="387" r="9"/></g>
<g id="t82"><circle class="t" cx="1051" cy="436" r="11"/></g>
<g id="t85"><circle class="t" cx="1042" cy="514" r="34"/></g>
<g id="l2"><circle class="l" cx="784" cy="489" r="12"/></g>
<g id="l3"><circle class="l" cx="870" cy="505" r="9"/></g>
<g id="l4"><circle class="l" cx="843" cy="536" r="8"/></g>
<g id="l6"><circle class="l" cx="922" cy="578" r="8"/></g>
<g id="l7"><circle class="l" cx="989" cy="574" r="10"/></g>
<g id="l8"><circle class="l" cx="1004" cy="607" r="9"/></g>
<g id="l10"><circle class="l" cx="944" cy="644" r="10"/></g>
<g id="l11"><circle class="l" cx="981" cy="646" r="11"/></g>
<g id="l12"><circle class="l" cx="903" cy="670" r="9"/></g>
<g id="l13"><circle class="l" cx="976" cy="720" r="9"/></g>
<g id="l15"><circle class="l" cx="1185" cy="507" r="8"/></g>
<g id="l16"><circle class="l" cx="1248" cy="510" r="15"/></g>
<g id="l17"><circle class="l" cx="1091" cy="563" r="20"/></g>
<g id="l18"><circle class="l" cx="1147" cy="607" r="10"/></g>
<g id="l19"><circle class="l" cx="1061" cy="649" r="14"/></g>
<g id="l20"><circle class="l" cx="1122" cy="649" r="18"/></g>
<g id="l21"><circle class="l" cx="1074" cy="735" r="9"/></g>

<g id="humans"><circle class="t" cx="829" cy="456" r="44"/><text x="829.7" y="456.2" font-size="39.2">humans</text></g>
<g id="male"><circle class="t" cx="1028" cy="479" r="34"/><text x="1026.7" y="477.3" font-size="33.4">male</text></g>
<g id="rna-binding-proteins"><circle class="p" cx="639" cy="315" r="32"/><text x="637.8" y="319.3" font-size="31.9">rna-binding proteins</text></g>
<g id="adult"><circle class="t" cx="1181" cy="442" r="30"/><text x="1177.6" y="444.4" font-size="32">adult</text></g>
<g id="animals"><circle class="p" cx="451" cy="455" r="28"/><text x="452" y="455.3" font-size="31">animals</text></g>
<g id="aged"><circle class="t" cx="1113" cy="536" r="27"/><text x="1115" y="536.2" font-size="29.6">aged</text></g>
<g id="cytoplasmic-granules"><circle class="p" cx="302" cy="555" r="25"/><text x="301.6" y="555.1" font-size="26.8">cytoplasmic granules</text></g>
<g id="proteins"><circle class="k" cx="836" cy="171" r="23"/><text x="837" y="171.9" font-size="28.7">proteins</text></g>
<g id="immunophenotyping"><circle class="t" cx="1328" cy="366" r="23"/><text x="1326.5" y="370" font-size="28.7">immunophenotyping</text></g>
<g id="killer-cells-natural"><circle class="t" cx="1206" cy="324" r="23"/><text x="1205.8" y="323" font-size="26.8">killer cells, natural</text></g>
<g id="t-lymphocytes-cytotoxic"><circle class="k" cx="1097" cy="244" r="20"/><text x="1098.9" y="241.3" font-size="26.8">t-lymphocytes, cytotoxic</text></g>
<g id="herpesvirus-4-human"><circle class="t" cx="1381" cy="434" r="20"/><text x="1383.8" y="433.2" font-size="26.3">herpesvirus 4, human</text></g>
<g id="skin-neoplasms"><circle class="t" cx="1298" cy="533" r="21"/><text x="1299.3" y="529.7" font-size="26.8">skin neoplasms</text></g>
<g id="fatal-outcome"><circle class="t" cx="1378" cy="569" r="18"/><text x="1376.4" y="572.4" font-size="24.8">fatal outcome</text></g>
<g id="biomarkers-tumor"><circle class="t" cx="1284" cy="628" r="18"/><text x="1284.6" y="628.8" font-size="26.8">biomarkers, tumor</text></g>
<g id="mutation"><circle class="p" cx="511" cy="635" r="17"/><text x="509.7" y="634.9" font-size="24.8">mutation</text></g>
<g id="granzymes"><circle class="k" cx="1244" cy="163" r="16"/><text x="1243" y="164" font-size="26.8">granzymes</text></g>
<g id="protein-binding"><circle class="p" cx="231" cy="297" r="16"/><text x="225.4" y="298.2" font-size="24.4">protein binding</text></g>
<g id="lymphoma"><circle class="t" cx="1384" cy="716" r="16"/><text x="1379.5" y="715.6" font-size="25.1">lymphoma, extranodal nk-t-cell</text></g>
<g id="gene-expression"><circle class="p" cx="785" cy="550" r="16"/><text x="790.8" y="550.4" font-size="23.4">gene expression regulation, ne</text></g>
<g id="base-sequence"><circle class="p" cx="479" cy="162" r="15"/><text x="477.1" y="161.7" font-size="24.8">base sequence</text></g>
<g id="diagnosis-differential"><circle class="t" cx="1373" cy="483" r="15"/><text x="1369.2" y="482.1" font-size="24.8">diagnosis, differential</text></g>
<g id="serine-endopeptidases"><circle class="k" cx="1247" cy="91" r="14"/><text x="1240.4" y="90.5" font-size="24.8">serine endopeptidases</text></g>
<g id="hela-cells"><circle class="p" cx="213" cy="372" r="14"/><text x="212.8" y="371.7" font-size="24.4">hela cells</text></g>
<g id="antigens-surface"><circle class="p" cx="569" cy="200" r="14"/><text x="572.3" y="201.1" font-size="22.9">antigens, surface</text></g>
<g id="alternative-splicing"><circle class="p" cx="299" cy="206" r="13"/><text x="294.1" y="203.3" font-size="24.4">alternative splicing</text></g>
<g id="rna-recognition"><circle class="p" cx="169" cy="603" r="13"/><text x="174.3" y="603" font-size="23.2">rna recognition motif proteins</text></g>
<g id="stress-granules"><circle class="p" cx="283" cy="663" r="13"/><text x="283.7" y="664.1" font-size="22.9">stress granules</text></g>
<g id="biomarkers"><circle class="k" cx="970" cy="383" r="13"/><text x="970.5" y="382.7" font-size="23.4">biomarkers</text></g>
<g id="breast-neoplasms"><circle class="l" cx="842" cy="622" r="13"/><text x="841" y="621.6" font-size="21">breast neoplasms</text></g>
<g id="cytotoxicity"><circle class="k" cx="942" cy="107" r="12"/><text x="942" y="108.5" font-size="22.9">cytotoxicity, immunologic</text></g>
<g id="pore-forming"><circle class="k" cx="1180" cy="22" r="12"/><text x="1182.5" y="22" font-size="23.4">pore forming cytotoxic protein</text></g>
<g id="tia1"><circle class="p" cx="371" cy="618" r="12"/><text x="371.2" y="614.9" font-size="23.4">tia1</text></g>
<g id="cytoplasm"><circle class="p" cx="313" cy="423" r="11"/><text x="311.7" y="426" font-size="22.9">cytoplasm</text></g>
<g id="splenic-neoplasms"><circle class="t" cx="1440" cy="314" r="11"/><text x="1438" y="312.7" font-size="21">splenic neoplasms</text></g>
<g id="als"><circle class="p" cx="375" cy="735" r="11"/><text x="380.3" y="733.3" font-size="22.9">amyotrophic lateral sclerosis</text></g>
<g id="survival-analysis"><circle class="l" cx="1129" cy="750" r="11"/><text x="1125.7" y="749.6" font-size="21">survival analysis</text></g>
<g id="introns"><circle class="p" cx="257" cy="132" r="10"/><text x="257.2" y="130.8" font-size="21.9">introns</text></g>
<g id="rna-small-interfering"><circle class="p" cx="384" cy="506" r="10"/><text x="388.8" y="505.9" font-size="22.9">rna, small interfering</text></g>
<g id="hek293-cells"><circle class="p" cx="205" cy="497" r="10"/><text x="207" y="491.3" font-size="23.2">hek293 cells</text></g>
<g id="autophagy"><circle class="p" cx="441" cy="683" r="10"/><text x="440.4" y="682.8" font-size="21.5">autophagy</text></g>
<g id="macrophages"><circle class="l" cx="824" cy="400" r="10"/><text x="824.2" y="408.2" font-size="22.9">macrophages</text></g>
<g id="b-lymphocytes"><circle class="l" cx="1010" cy="417" r="10"/><text x="1009.2" y="415.6" font-size="21">b-lymphocytes</text></g>
<g id="transcription-factors"><circle class="p" cx="600" cy="504" r="10"/><text x="597.1" y="500.7" font-size="21.3">transcription factors</text></g>
<g id="transcription-genetic"><circle class="p" cx="469" cy="264" r="10"/><text x="475.2" y="261.9" font-size="21">transcription, genetic</text></g>
<g id="necrosis"><circle class="t" cx="1004" cy="347" r="10"/><text x="1002.3" y="341.5" font-size="20.5">necrosis</text></g>
<g id="case-control-studies"><circle class="k" cx="986" cy="284" r="10"/><text x="985" y="280.3" font-size="21.2">case-control studies</text></g>
<g id="bone-marrow"><circle class="t" cx="1434" cy="248" r="9"/><text x="1435.2" y="246.2" font-size="21.5">bone marrow</text></g>
<g id="acute-disease"><circle class="k" cx="1004" cy="176" r="9"/><text x="1002" y="174.3" font-size="20.8">acute disease</text></g>
<g id="tumor-cells-cultured"><circle class="p" cx="697" cy="240" r="9"/><text x="698.3" y="235.2" font-size="21">tumor cells, cultured</text></g>
<g id="cell-differentiation"><circle class="p" cx="628" cy="403" r="9"/><text x="627.2" y="401.3" font-size="21">cell differentiation</text></g>
<g id="infant"><circle class="k" cx="1308" cy="217" r="9"/><text x="1309.7" y="217.2" font-size="22.9">infant</text></g>
<g id="gene-deletion"><circle class="t" cx="750" cy="372" r="9"/><text x="749.3" y="365.6" font-size="20.8">gene deletion</text></g>
<g id="cloning-molecular"><circle class="p" cx="432" cy="117" r="8"/><text x="438.8" y="115.8" font-size="21">cloning, molecular</text></g>
<g id="amino-acid-motifs"><circle class="p" cx="192" cy="259" r="8"/><text x="192.7" y="258.7" font-size="21">amino acid motifs</text></g>
<g id="recombinant-fusion-proteins"><circle class="p" cx="288" cy="337" r="8"/><text x="288.3" y="331.3" font-size="21.4">recombinant fusion proteins</text></g>
<g id="liver"><circle class="t" cx="1120" cy="374" r="8"/><text x="1121" y="373.9" font-size="21">liver</text></g>
<g id="cell-death"><circle class="p" cx="576" cy="458" r="8"/><text x="576.5" y="457.7" font-size="21">cell death</text></g>
<g id="frontotemporal-dementia"><circle class="p" cx="443" cy="795" r="8"/><text x="443.5" y="794.5" font-size="21">frontotemporal dementia</text></g>
<g id="cohort-studies"><circle class="l" cx="778" cy="768" r="8"/><text x="777.6" y="767.5" font-size="21.3">cohort studies</text></g>
<g id="hiv-1"><circle class="k" cx="730" cy="177" r="7"/><text x="731" y="175" font-size="21.5">hiv-1</text></g>
<g id="cell-count"><text x="875.4" y="340" font-size="21">cell count</text></g>
<g id="doxorubicin"><text x="1199.5" y="576.2" font-size="23.4">doxorubicin</text></g>
<g id="chickens"><text x="326.5" y="390" font-size="21">chickens</text></g>
<g id="rats"><text x="425.7" y="389.5" font-size="22.5">rats</text></g>
<g id="rna-long-noncoding"><text x="523.1" y="596.3" font-size="21.8">rna, long noncoding</text></g>
<g id="disease-progression"><text x="1086.4" y="666" font-size="21">disease progression</text></g>
</g>
</g>
</svg>
